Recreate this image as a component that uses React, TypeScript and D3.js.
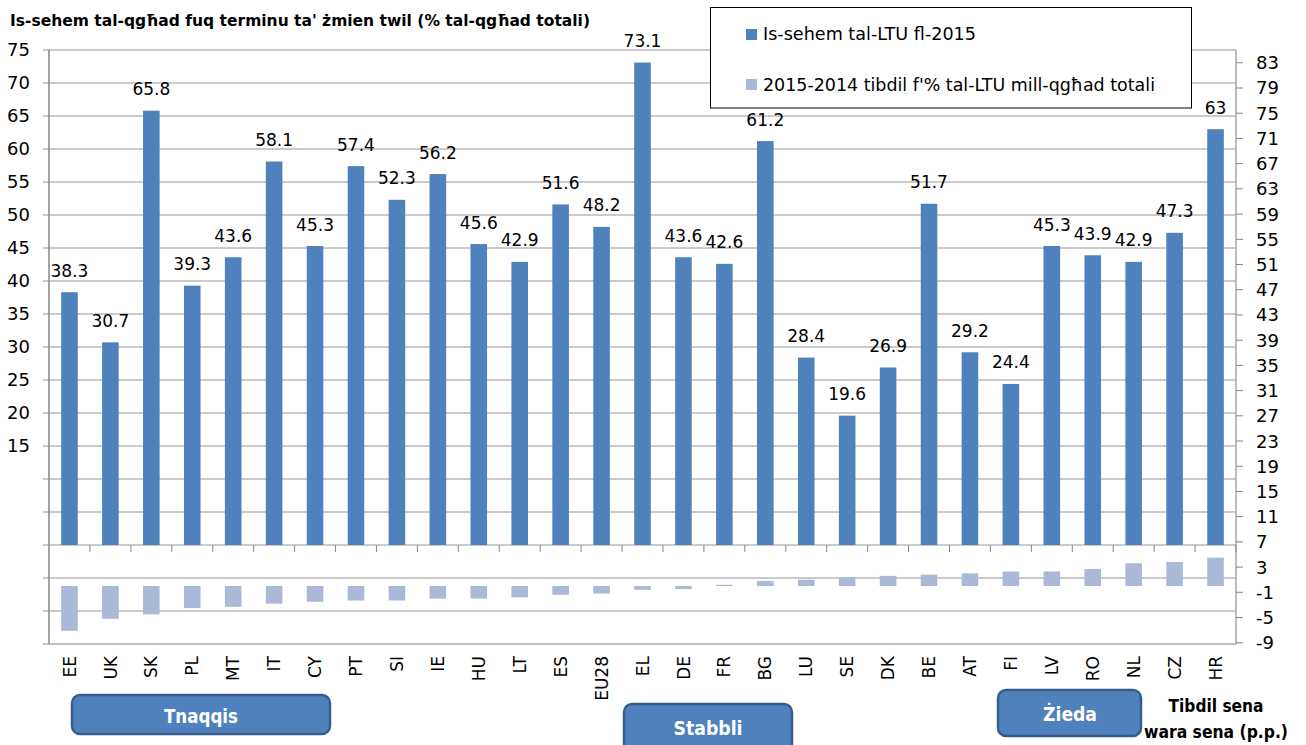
import React from "react";
import * as d3 from "d3";

const categories = ["EE","UK","SK","PL","MT","IT","CY","PT","SI","IE","HU","LT","ES","EU28","EL","DE","FR","BG","LU","SE","DK","BE","AT","FI","LV","RO","NL","CZ","HR"];
const share2015 = [38.3,30.7,65.8,39.3,43.6,58.1,45.3,57.4,52.3,56.2,45.6,42.9,51.6,48.2,73.1,43.6,42.6,61.2,28.4,19.6,26.9,51.7,29.2,24.4,45.3,43.9,42.9,47.3,63];
const change = [-7.1,-5.2,-4.5,-3.5,-3.3,-2.8,-2.5,-2.3,-2.3,-2.0,-2.0,-1.8,-1.4,-1.2,-0.6,-0.5,0.2,0.8,1.0,1.4,1.6,1.8,2.0,2.3,2.3,2.7,3.6,3.8,4.5];
const leftTickLabels = [15,20,25,30,35,40,45,50,55,60,65,70,75];
const gridValues = [-15,-10,-5,0,5,10,15,20,25,30,35,40,45,50,55,60,65,70,75];
const rightTicks = [-9,-5,-1,3,7,11,15,19,23,27,31,35,39,43,47,51,55,59,63,67,71,75,79,83];
const legendLabels = ["Is-sehem tal-LTU fl-2015", "2015-2014 tibdil f'% tal-LTU mill-qgħad totali"];
const groups = [
  { label: "Tnaqqis", x0: 72, x1: 330, y0: 695, y1: 734, tx: 201, ty: 723, tl: 74 },
  { label: "Stabbli", x0: 624, x1: 792, y0: 704, y1: 760, tx: 708, ty: 735, tl: 69 },
  { label: "Żieda", x0: 998, x1: 1141, y0: 690, y1: 736, tx: 1070, ty: 721, tl: 54 },
];

const BLUE = "#4f81bd";
const LIGHT = "#aab9d8";
const FONT = "'DejaVu Sans', sans-serif";

export default function App() {
  const L = 49, R = 1236, T = 50, B = 644;
  const x = d3.scaleBand<string>().domain(categories).range([L, R]).padding(0);
  const bw = x.bandwidth();
  const barW = bw * 0.405;
  const yL = d3.scaleLinear().domain([-15, 75]).range([B, T]);
  const yR = d3.scaleLinear().domain([-9.2, 85.03]).range([B, T]);

  return (
    <svg width={1306} height={745} style={{ position: "absolute", left: 0, top: 0, background: "#fff" }} fontFamily={FONT}>
      <rect x={0} y={0} width={1306} height={745} fill="#fff" />
      {/* title */}
      <text x={10} y={26} fontSize={16.5} fontWeight="bold" textLength={580} lengthAdjust="spacingAndGlyphs" fill="#000">
        Is-sehem tal-qgħad fuq terminu ta' żmien twil (% tal-qgħad totali)
      </text>

      {/* gridlines */}
      {gridValues.map((v) => (
        <line key={"g" + v} x1={L - 6} x2={R} y1={yL(v)} y2={yL(v)} stroke={v === -15 ? "#bfbfbf" : "#969696"} strokeWidth={v === -15 ? 2 : 1} />
      ))}
      {leftTickLabels.map((v) => (
        <text key={"lt" + v} x={30} y={yL(v)} dy="0.36em" textAnchor="end" fontSize={18} fill="#000">{v}</text>
      ))}

      {/* axes lines */}
      <line x1={L} x2={L} y1={T} y2={B} stroke="#868686" strokeWidth={1.5} />
      <line x1={R} x2={R} y1={T} y2={B} stroke="#a6a6a6" strokeWidth={1.5} />
      {rightTicks.map((v) => (
        <g key={"rt" + v}>
          <line x1={R} x2={R + 7} y1={yR(v)} y2={yR(v)} stroke="#868686" />
          <text x={1256} y={yR(v)} dy="0.36em" fontSize={18} fill="#000">{v}</text>
        </g>
      ))}

      {/* category ticks at zero of primary */}
      {categories.map((c) => (
        <line key={"ct" + c} x1={(x(c) as number) + bw} x2={(x(c) as number) + bw} y1={yL(0)} y2={yL(0) + 7} stroke="#868686" />
      ))}

      {/* primary bars */}
      {categories.map((c, i) => {
        const cx = (x(c) as number) + bw / 2;
        const v = share2015[i];
        return (
          <g key={"b" + c}>
            <rect x={cx - barW / 2} y={yL(v)} width={barW} height={yL(0) - yL(v)} fill={BLUE} />
            <text x={cx} y={yL(v) - 15.5} textAnchor="middle" fontSize={17} fill="#000">{v}</text>
          </g>
        );
      })}

      {/* secondary bars */}
      {categories.map((c, i) => {
        const cx = (x(c) as number) + bw / 2;
        const v = change[i];
        const y0 = yR(Math.max(0, v));
        const h = Math.abs(yR(v) - yR(0));
        return <rect key={"s" + c} x={cx - barW / 2} y={y0} width={barW} height={Math.max(h, 1)} fill={LIGHT} />;
      })}

      {/* category labels */}
      {categories.map((c) => {
        const cx = (x(c) as number) + bw / 2;
        return (
          <text key={"cl" + c} transform={`translate(${cx},656) rotate(-90)`} textAnchor="end" dy="0.36em" fontSize={17} fill="#000">{c}</text>
        );
      })}

      {/* legend */}
      <rect x={710.5} y={7.5} width={481} height={100.5} fill="#fff" stroke="#000" strokeWidth={1} />
      <rect x={746} y={29} width={11} height={11} fill={BLUE} />
      <text x={763} y={39.5} fontSize={17} fill="#000" textLength={213} lengthAdjust="spacingAndGlyphs">{legendLabels[0]}</text>
      <rect x={746} y={79} width={11} height={11} fill={LIGHT} />
      <text x={763} y={90.5} fontSize={17} fill="#000" textLength={392} lengthAdjust="spacingAndGlyphs">{legendLabels[1]}</text>

      {/* group boxes */}
      {groups.map((g) => (
        <g key={g.label}>
          <rect x={g.x0} y={g.y0} width={g.x1 - g.x0} height={g.y1 - g.y0} rx={8} ry={8} fill={BLUE} stroke="#385d8a" strokeWidth={2.5} />
          <text x={g.tx} y={g.ty} textAnchor="middle" fontSize={19} fontWeight="bold" fill="#fff" textLength={g.tl} lengthAdjust="spacingAndGlyphs">{g.label}</text>
        </g>
      ))}

      {/* bottom right label */}
      <text x={1216} y={712} textAnchor="middle" fontSize={18} fontWeight="bold" fill="#000" textLength={95} lengthAdjust="spacingAndGlyphs">Tibdil sena</text>
      <text x={1216} y={738} textAnchor="middle" fontSize={17.5} fontWeight="bold" fill="#000" textLength={144} lengthAdjust="spacingAndGlyphs">wara sena (p.p.)</text>
    </svg>
  );
}
